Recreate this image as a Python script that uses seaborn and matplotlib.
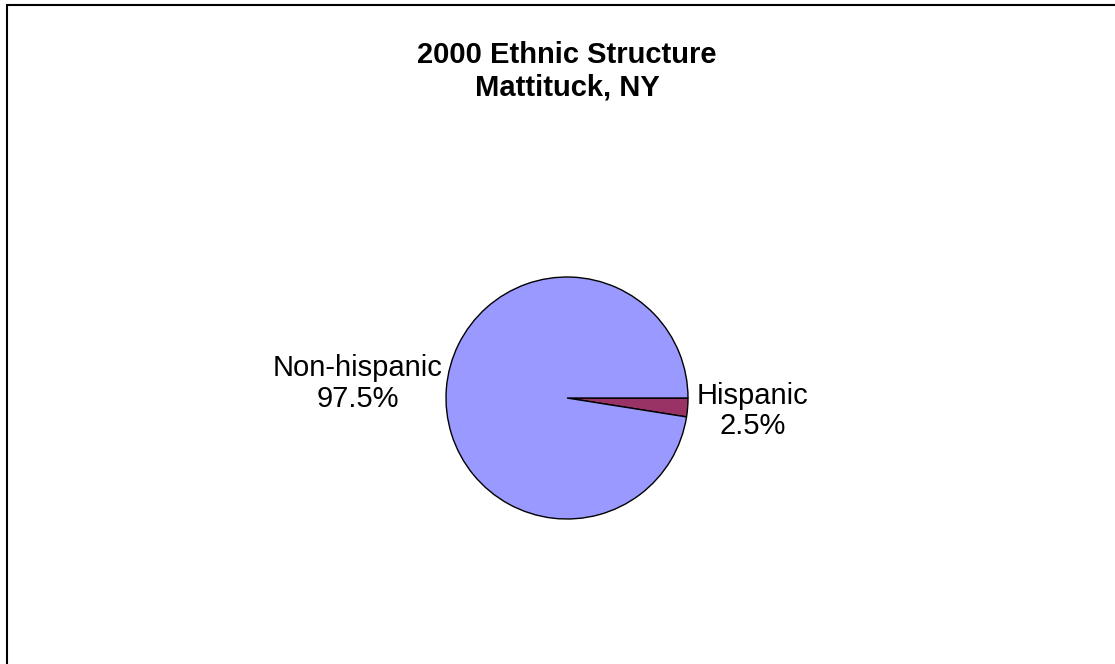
import matplotlib
matplotlib.use("Agg")
import matplotlib.pyplot as plt
import seaborn as sns
from matplotlib.patches import Rectangle

groups = ["Hispanic", "Non-hispanic"]
shares = [2.5, 97.5]
colors = ["#993366", "#9999FF"]

if __name__ == "__main__":
    sns.set_style("white")
    plt.rcParams["font.family"] = ["Liberation Sans", "DejaVu Sans"]

    fig = plt.figure(figsize=(11.15, 6.64), dpi=100)
    fig.patch.set_facecolor("white")

    # outer frame, only top/left visible like the source
    fig.patches.append(Rectangle((7 / 1115, -0.05), 1.2, 1 - 5 / 664 + 0.05,
                                 transform=fig.transFigure, fill=False,
                                 edgecolor="black", linewidth=1.5))

    fig.text(567 / 1115, 1 - 55 / 664, "2000 Ethnic Structure", color="black",
             ha="center", va="center", fontsize=21, fontweight="bold")
    fig.text(567 / 1115, 1 - 87 / 664, "Mattituck, NY", color="black",
             ha="center", va="center", fontsize=21, fontweight="bold")

    ax = fig.add_axes([446 / 1115, (664 - 519) / 664, 242 / 1115, 242 / 664])
    labels = [f"{g}\n{s}%" for g, s in zip(groups, shares)]
    wedges, texts = ax.pie(
        shares, labels=labels, colors=colors, startangle=0, counterclock=False,
        labeldistance=1.05,
        wedgeprops=dict(edgecolor="black", linewidth=1.0),
        textprops=dict(fontsize=21, multialignment="center", color="black",
                       linespacing=1.1),
    )
    texts[0].set_position((1.075, -0.11))
    texts[0].set_ha("left")
    texts[1].set_position((-1.03, 0.12))
    texts[1].set_ha("right")
    ax.set_xlim(-1, 1)
    ax.set_ylim(-1, 1)
    ax.set_aspect("equal")
    ax.axis("off")

    fig.savefig("out.png", dpi=100)
